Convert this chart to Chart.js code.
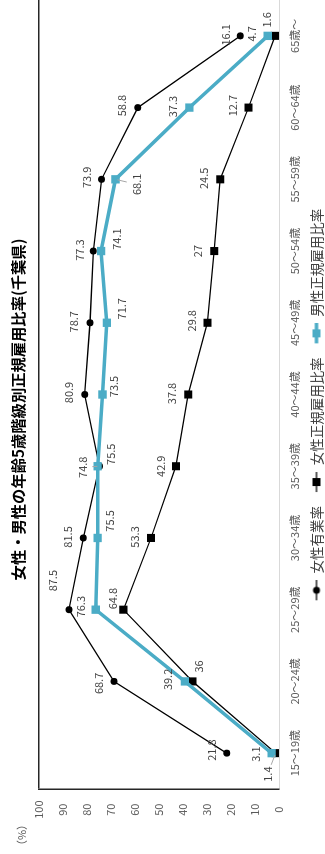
<!DOCTYPE html>
<html lang="ja">
<head>
<meta charset="utf-8">
<title>女性・男性の年齢5歳階級別正規雇用比率(千葉県)</title>
<script src="https://cdn.jsdelivr.net/npm/chart.js@4.4.1/dist/chart.umd.min.js"></script>
<style>
  html, body { margin: 0; padding: 0; background: #fff; overflow: hidden; }
  /* chart is laid out landscape, then turned a quarter to the left */
  #wrap {
    position: absolute; left: 0; top: 0;
    width: 854px; height: 325px;
    transform-origin: 0 0;
    transform: translateY(854px) rotate(-90deg);
  }
</style>
</head>
<body>
<div id="wrap"><canvas id="rateChart" width="854" height="325"></canvas></div>
<script>
const ageGroups = ['15～19歳', '20～24歳', '25～29歳', '30～34歳', '35～39歳', '40～44歳',
  '45～49歳', '50～54歳', '55～59歳', '60～64歳', '65歳～'];
const femaleWorkRate = [21.8, 68.7, 87.5, 81.5, 74.8, 80.9, 78.7, 77.3, 73.9, 58.8, 16.1];
const femaleRegularRate = [1.4, 36, 64.8, 53.3, 42.9, 37.8, 29.8, 27, 24.5, 12.7, 1.6];
const maleRegularRate = [3.1, 39.2, 76.3, 75.5, 75.5, 73.5, 71.7, 74.1, 68.1, 37.3, 4.7];
const seriesNames = ['女性有業率', '女性正規雇用比率', '男性正規雇用比率'];
const yMin = 0, yMax = 100, yStep = 10;

// where each value label sits relative to its point [dx, dy]
const labelShift = [
  [[3, -15], [-2, -15], [29, -16], [1, -15], [-1, -17], [2, -16], [1, -16], [1, -14], [2, -15], [2, -16], [1, -15]],
  [[-21, -8], [15, 6], [11, -11], [1, -16], [0, -15], [1, -16], [2, -16], [0, -16], [1, -16], [2, -16], [16, -8]],
  [[-1, -16], [2, -17], [3, -15], [17, 12], [12, 13], [8, 11], [14, 15], [12, 16], [-5, 21], [1, -17], [2, -16]]
];
// labels that were pulled away get a small leader line
const leaders = [[4], [0], [8]];

const TEAL = '#4bacc6';
const FONT = '"Noto Sans CJK JP", "Noto Sans", sans-serif';
Chart.defaults.font.family = FONT;

// legend key: blank gap on the left, then a short line with its marker
function legendIcon(color, width, marker, size) {
  const c = document.createElement('canvas');
  c.width = 30; c.height = 12;
  const g = c.getContext('2d');
  g.strokeStyle = color;
  g.lineWidth = width;
  g.beginPath(); g.moveTo(10, 6); g.lineTo(30, 6); g.stroke();
  g.fillStyle = color;
  if (marker === 'circle') {
    g.beginPath(); g.arc(20, 6, size / 2, 0, Math.PI * 2); g.fill();
  } else {
    g.fillRect(20 - size / 2, 6 - size / 2, size, size);
  }
  return c;
}
const icons = [
  legendIcon('#000', 1.3, 'circle', 7),
  legendIcon('#000', 1.3, 'rect', 8),
  legendIcon(TEAL, 3.5, 'rect', 8)
];

const valueLabels = {
  id: 'valueLabels',
  afterDatasetsDraw(chart) {
    const ctx = chart.ctx;
    ctx.save();
    ctx.font = '11px ' + FONT;
    ctx.textAlign = 'center';
    ctx.textBaseline = 'middle';
    chart.data.datasets.forEach((ds, di) => {
      chart.getDatasetMeta(di).data.forEach((pt, i) => {
        const [dx, dy] = labelShift[di][i];
        if (leaders[di].includes(i)) {
          const len = Math.hypot(dx, dy);
          const ux = dx / len, uy = dy / len;
          ctx.strokeStyle = '#a6a6a6';
          ctx.lineWidth = 1;
          ctx.beginPath();
          ctx.moveTo(pt.x + ux * 2, pt.y + uy * 2);
          ctx.lineTo(pt.x + ux * (len - 10), pt.y + uy * (len - 10));
          ctx.stroke();
        }
        ctx.fillStyle = '#404040';
        ctx.fillText(String(ds.data[i]), pt.x + dx, pt.y + dy);
      });
    });
    // unit above the value axis
    const area = chart.chartArea;
    ctx.fillStyle = '#595959';
    ctx.fillText('（%）', area.left - 46, area.top - 17);
    ctx.restore();
  }
};

new Chart(document.getElementById('rateChart'), {
  type: 'line',
  data: {
    labels: ageGroups,
    datasets: [
      {
        label: seriesNames[0], data: femaleWorkRate, order: 2,
        borderColor: '#000', backgroundColor: '#000', borderWidth: 1.3,
        pointStyle: 'circle', pointRadius: 3.5, pointBorderWidth: 0
      },
      {
        label: seriesNames[1], data: femaleRegularRate, order: 1,
        borderColor: '#000', backgroundColor: '#000', borderWidth: 1.3,
        pointStyle: 'rect', pointRadius: 5.7, pointBorderWidth: 0
      },
      {
        label: seriesNames[2], data: maleRegularRate, order: 0,
        borderColor: TEAL, backgroundColor: TEAL, borderWidth: 3.5,
        pointStyle: 'rect', pointRadius: 5.9, pointBorderWidth: 0
      }
    ]
  },
  options: {
    responsive: false,
    animation: false,
    events: [],
    devicePixelRatio: 1,
    layout: { autoPadding: false, padding: { left: 35, right: 0, top: 0, bottom: 0 } },
    plugins: {
      title: {
        display: true,
        text: '女性・男性の年齢5歳階級別正規雇用比率(千葉県)',
        color: '#000',
        font: { size: 15.3, weight: 'bold' },
        padding: { top: 8.5, bottom: 12 }
      },
      legend: {
        position: 'bottom',
        maxHeight: 19.25,
        labels: {
          usePointStyle: true,
          pointStyleWidth: 30,
          padding: 4,
          color: '#404040',
          font: { size: 13.5 },
          generateLabels: (chart) => chart.data.datasets.map((ds, i) => ({
            text: ds.label, pointStyle: icons[i], datasetIndex: i,
            fillStyle: ds.borderColor, strokeStyle: ds.borderColor,
            lineWidth: 1, hidden: false, fontColor: '#404040'
          }))
        }
      },
      tooltip: { enabled: false }
    },
    scales: {
      x: {
        offset: true,
        grid: { display: false, drawTicks: false },
        border: { color: '#d9d9d9', width: 1 },
        ticks: { color: '#595959', font: { size: 11 }, padding: 9.5, maxRotation: 0, autoSkip: false },
        afterFit(scale) { scale.height = 26.75; }
      },
      y: {
        min: yMin, max: yMax,
        grid: {
          drawTicks: false,
          lineWidth: 1.5,
          color: (c) => (c.tick && c.tick.value === yMax ? '#262626' : 'rgba(0,0,0,0)')
        },
        border: { color: '#262626', width: 1.5 },
        ticks: { stepSize: yStep, color: '#595959', font: { size: 11 }, padding: 11.5, crossAlign: 'center' },
        afterFit(scale) { scale.width = 30; }
      }
    }
  },
  plugins: [valueLabels]
});
</script>
</body>
</html>
